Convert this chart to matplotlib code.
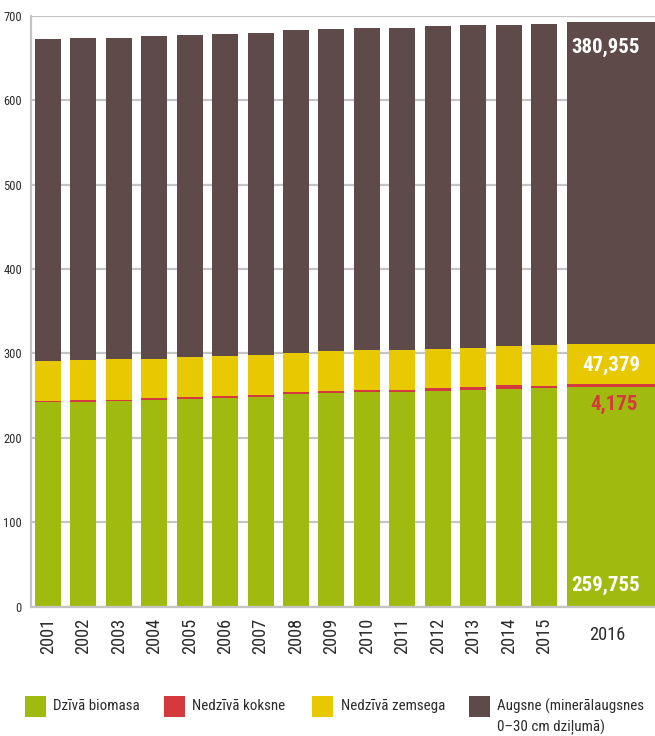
import matplotlib
matplotlib.use("Agg")
import matplotlib.pyplot as plt
from matplotlib.patches import Rectangle
import matplotlib.transforms as mtransforms
from matplotlib import font_manager
import numpy as np

years = ['2001', '2002', '2003', '2004', '2005', '2006', '2007', '2008',
         '2009', '2010', '2011', '2012', '2013', '2014', '2015', '2016']
dziva_biomasa = [242.3, 242.3, 243.1, 244.3, 245.5, 246.7, 247.9, 251.4,
                 252.6, 253.8, 253.8, 255.0, 256.2, 257.4, 258.5, 259.755]
nedziva_koksne = [1.2, 2.0, 2.3, 2.4, 2.5, 2.5, 3.0, 3.3,
                  2.5, 2.5, 3.4, 4.2, 4.4, 4.6, 3.4, 4.175]
nedziva_zemsega = [47.1, 47.5, 47.5, 46.3, 47.5, 47.5, 47.5, 46.3,
                   47.5, 47.5, 47.4, 46.3, 46.3, 46.3, 47.5, 47.379]
augsne = [381.3, 381.2, 381.2, 382.4, 381.2, 381.2, 381.2, 382.3,
          381.1, 381.1, 381.2, 382.4, 382.3, 381.1, 381.1, 380.955]
series_labels = ['Dzīvā biomasa', 'Nedzīvā koksne', 'Nedzīvā zemsega',
                 'Augsne (minerālaugsnes\n0–30 cm dziļumā)']
last_labels = ['259,755', '4,175', '47,379', '380,955']
yticks = [0, 100, 200, 300, 400, 500, 600, 700]

colors = ['#A1BA10', '#D4393D', '#E8C800', '#5D4A49']

# choose a narrow font if one is installed, else Roboto
names = {f.name for f in font_manager.fontManager.ttflist}
narrow = None
for fam in ['Roboto Condensed', 'Liberation Sans Narrow', 'Open Sans Condensed',
            'Arial Narrow']:
    if fam in names:
        narrow = fam
        break
if narrow:
    base = narrow
    k = 1.2
else:
    base = 'Roboto'
    k = 1.0
plt.rcParams['font.family'] = [base, 'DejaVu Sans']

W, H = 655, 736
fig = plt.figure(figsize=(W / 100, H / 100), dpi=100)
ax = fig.add_axes([31 / W, 1 - 606.7 / H, 1 - 31 / W, (606.7 - 15.7) / H])

n = len(years)
x = np.arange(n, dtype=float)
x[-1] = 15.9
widths = np.full(n, 0.734)
widths[-1] = 2.5

series = [dziva_biomasa, nedziva_koksne, nedziva_zemsega, augsne]
bottom = np.zeros(n)
for vals, c in zip(series, colors):
    ax.bar(x, vals, width=widths, bottom=bottom, color=c, zorder=3, linewidth=0)
    bottom = bottom + np.array(vals)

ax.set_xlim(-0.48, 17.13)
ax.set_ylim(0, 700)
ax.set_yticks(yticks)
ax.set_yticklabels([str(v) for v in yticks])
ax.grid(axis='y', color='#c4c4c4', linewidth=1.6, zorder=0)
ax.set_axisbelow(True)
for s in ['top', 'right']:
    ax.spines[s].set_visible(False)
for s in ['left', 'bottom']:
    ax.spines[s].set_color('#c4c4c4')
    ax.spines[s].set_linewidth(1.6)
ax.spines['bottom'].set_zorder(4)
ax.tick_params(axis='y', length=0, pad=6.5, labelsize=7.5 * k, labelcolor='#2b2b2b')
ax.tick_params(axis='x', length=0, pad=8, labelsize=11 * k, labelcolor='#2b2b2b')
ax.set_xticks(x)
ax.set_xticklabels(years)
labels = ax.get_xticklabels()
for lab in labels[:-1]:
    lab.set_rotation(90)
labels[-1].set_rotation(0)
offset = mtransforms.ScaledTranslation(-3 / 72, -6 / 72, fig.dpi_scale_trans)
labels[-1].set_transform(labels[-1].get_transform() + offset)

# value labels on 2016 bar
xr = 16.71
ax.text(xr, 25.7, last_labels[0], ha='right', va='center', color='white',
        fontsize=12.5 * k, fontweight='bold', zorder=5)
ax.text(xr - 0.08, 240, last_labels[1], ha='right', va='center', color=colors[1],
        fontsize=12.5 * k, fontweight='bold', zorder=5)
ax.text(xr, 285.4, last_labels[2], ha='right', va='center', color='white',
        fontsize=12.5 * k, fontweight='bold', zorder=5)
ax.text(xr, 663, last_labels[3], ha='right', va='center', color='white',
        fontsize=12.5 * k, fontweight='bold', zorder=5)

# legend
sq_x = [25, 164, 312, 469]
txt_x = [53, 192, 341, 497]
for sx, tx, c, lab in zip(sq_x, txt_x, colors, series_labels):
    fig.patches.append(Rectangle((sx / W, 1 - 717 / H), 21 / W, 21 / H,
                                 transform=fig.transFigure, facecolor=c,
                                 edgecolor='none'))
    fig.text(tx / W, 1 - 699 / H, lab, ha='left', va='top', fontsize=9 * k,
             color='#2b2b2b', linespacing=1.4)

fig.savefig('out.png', dpi=100)
